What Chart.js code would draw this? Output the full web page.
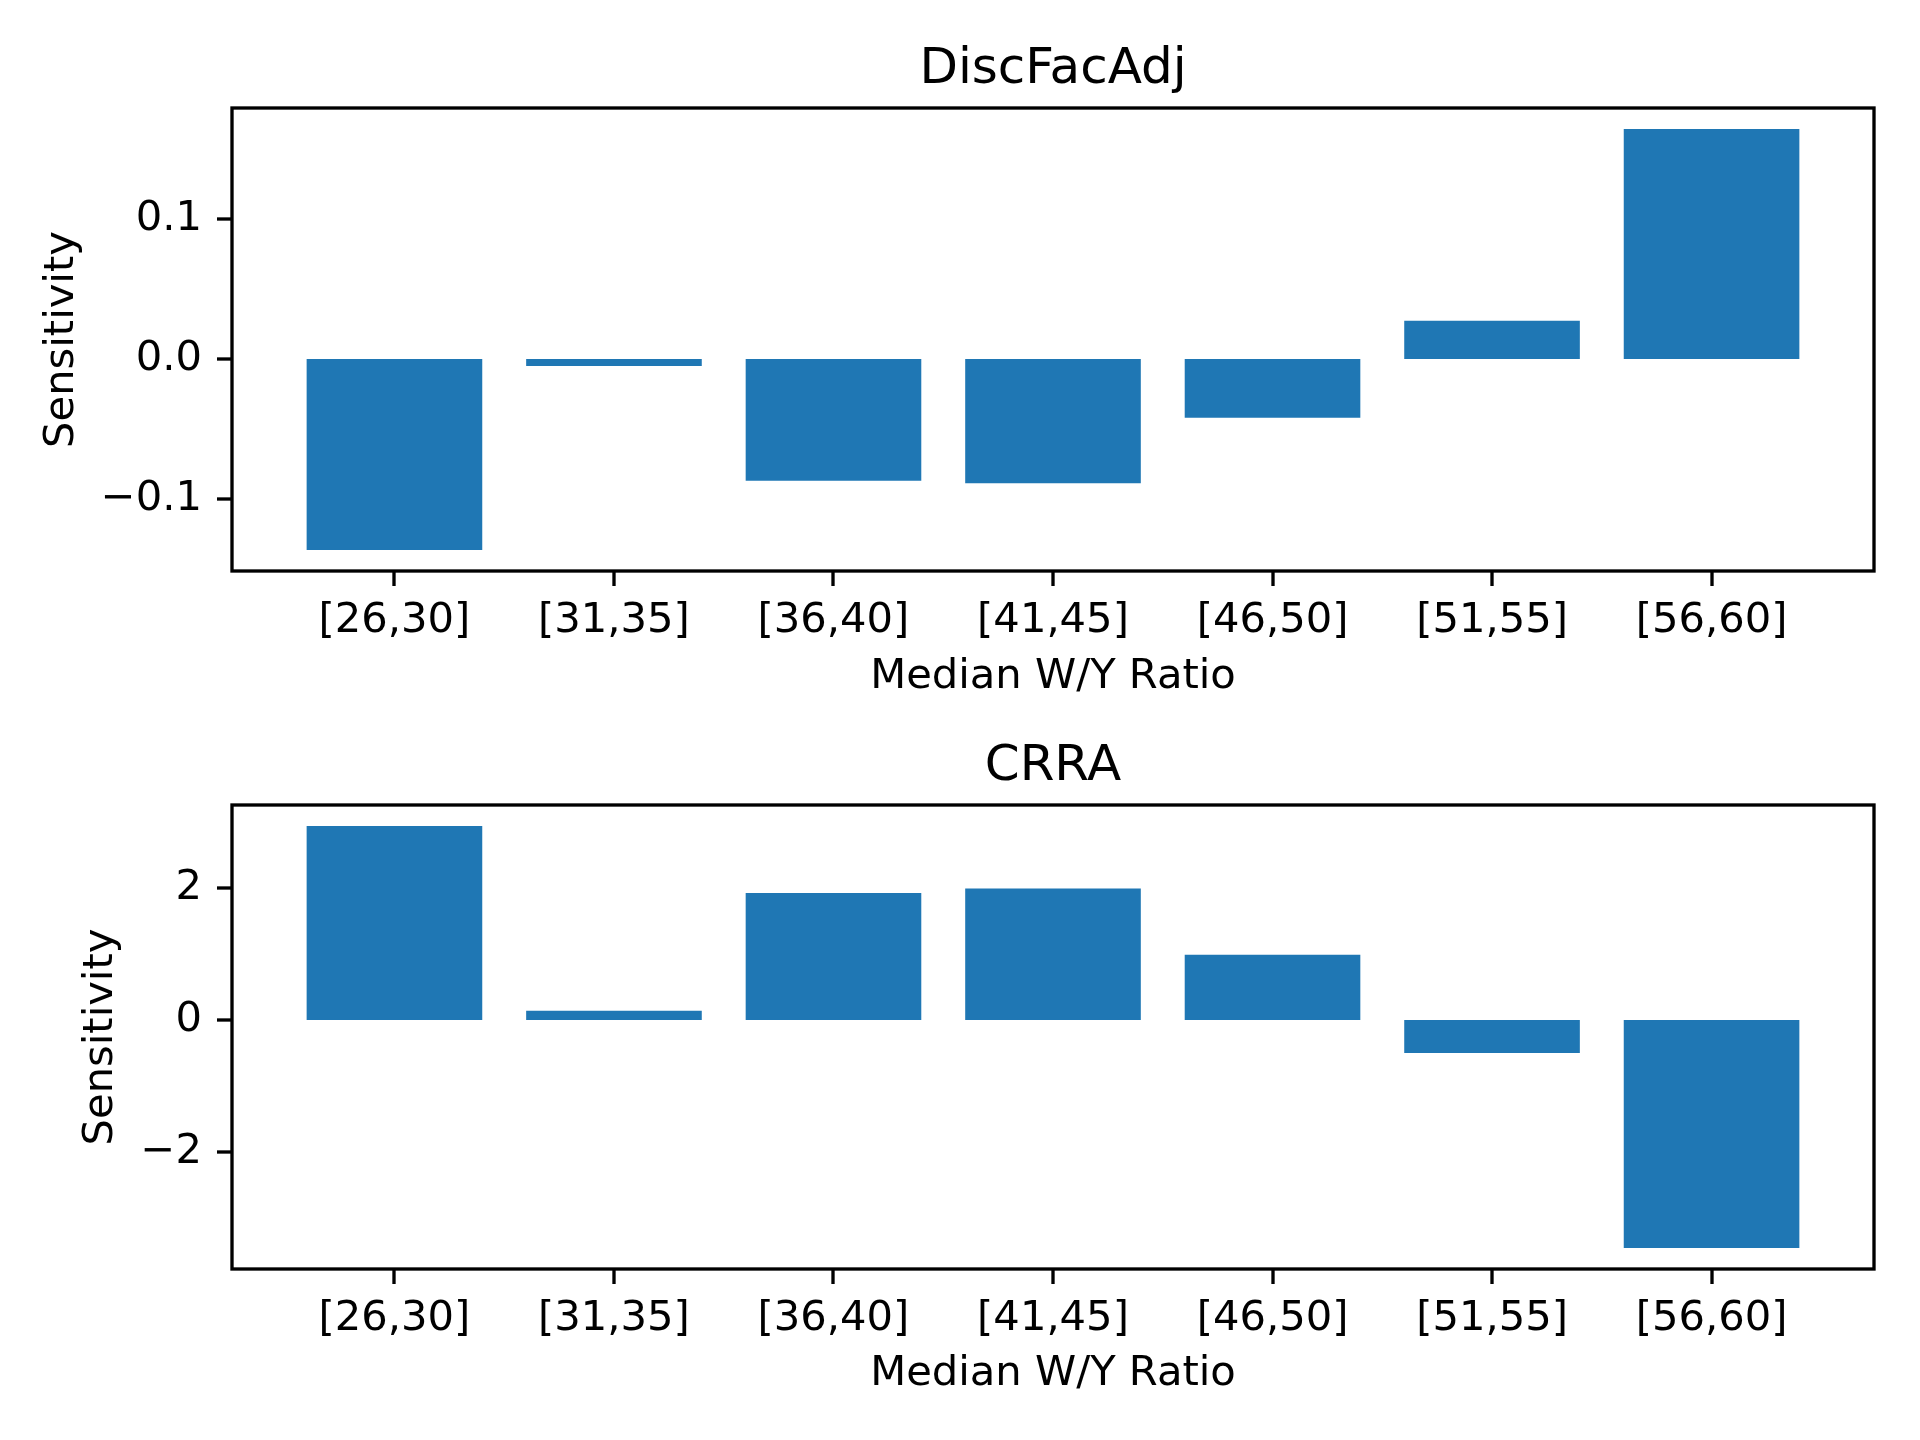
<!DOCTYPE html>
<html><head><meta charset="utf-8">
<script src="https://cdn.jsdelivr.net/npm/chart.js@4/dist/chart.umd.min.js"></script>
<style>html,body{margin:0;padding:0;background:#fff;} canvas{display:block;}</style>
</head><body>
<div style="width:1920px;height:1440px;position:relative;background:#fff">
<canvas id="c1" width="1920" height="720" style="width:1920px;height:720px"></canvas>
<canvas id="c2" width="1920" height="720" style="width:1920px;height:720px"></canvas>
</div>
<script>
// ---- data ----
const categories = ['[26,30]','[31,35]','[36,40]','[41,45]','[46,50]','[51,55]','[56,60]'];
const discFacAdjValues = [-0.1364, -0.0050, -0.0869, -0.0888, -0.0419, 0.0274, 0.1643];
const crraValues = [2.94, 0.14, 1.927, 1.994, 0.99, -0.50, -3.453];
const discFacAdjTicks = [-0.1, 0.0, 0.1];
const discFacAdjTickLabels = ['\u22120.1', '0.0', '0.1'];
const crraTicks = [-2, 0, 2];
const crraTickLabels = ['\u22122', '0', '2'];
const xAxisTitle = 'Median W/Y Ratio';
const yAxisTitle = 'Sensitivity';

// ---- style ----
const BAR_COLOR = '#1f77b4';
const BAR_WIDTH = 0.8;
const FONT = 'DejaVu Sans';
const TICK_SIZE = 41.67;
const TITLE_SIZE = 50;
const LINE_W = 3.33;
Chart.defaults.color = '#000';

const framePlugin = {
  id: 'frame',
  afterDatasetsDraw(chart) {
    const {ctx, chartArea: a} = chart;
    ctx.save();
    ctx.strokeStyle = '#000';
    ctx.lineWidth = LINE_W;
    ctx.strokeRect(a.left, a.top, a.right - a.left, a.bottom - a.top);
    ctx.restore();
  }
};

function makeChart(id, title, values, yTicks, yTickLabels, L) {
  const n = categories.length;
  const xPad = 0.05 * ((n - 1) + BAR_WIDTH);
  const lo = Math.min(0, ...values), hi = Math.max(0, ...values);
  const yPad = 0.05 * (hi - lo);
  return new Chart(document.getElementById(id), {
    type: 'bar',
    data: {
      datasets: [{
        data: values.map((v, i) => ({x: i, y: v})),
        backgroundColor: BAR_COLOR,
        borderWidth: 0,
        categoryPercentage: 1,
        barPercentage: BAR_WIDTH
      }]
    },
    options: {
      responsive: false,
      animation: false,
      devicePixelRatio: 1,
      layout: {padding: {left: 0, right: L.right, top: 0, bottom: 0}},
      plugins: {
        legend: {display: false},
        tooltip: {enabled: false},
        title: {
          display: true, text: title, color: '#000', fullSize: false,
          font: {family: FONT, size: TITLE_SIZE, weight: 'normal'},
          padding: {top: L.titleTop, bottom: L.titleBottom}
        }
      },
      scales: {
        x: {
          type: 'linear',
          offset: false,
          min: -0.5 + (1 - BAR_WIDTH) / 2 - xPad,
          max: (n - 1) + BAR_WIDTH / 2 + xPad,
          afterBuildTicks: s => { s.ticks = categories.map((_, i) => ({value: i})); },
          afterFit: s => { s.height = L.xHeight; },
          ticks: {
            autoSkip: false, maxRotation: 0, minRotation: 0,
            padding: L.xTickPad, color: '#000',
            font: {family: FONT, size: TICK_SIZE},
            callback: (v, i) => categories[i]
          },
          grid: {offset: false, drawOnChartArea: false, drawTicks: true, tickLength: 15,
                 color: '#000', tickColor: '#000', lineWidth: 0, tickWidth: LINE_W},
          border: {display: false},
          title: {display: true, text: xAxisTitle, color: '#000',
                  font: {family: FONT, size: TICK_SIZE},
                  padding: {top: 0, bottom: L.xTitlePad}}
        },
        y: {
          type: 'linear',
          min: lo - yPad,
          max: hi + yPad,
          afterBuildTicks: s => { s.ticks = yTicks.map(v => ({value: v})); },
          afterFit: s => { s.width = L.yWidth; },
          ticks: {
            padding: L.yTickPad, color: '#000',
            font: {family: FONT, size: TICK_SIZE},
            callback: (v, i) => yTickLabels[i]
          },
          grid: {drawOnChartArea: false, drawTicks: true, tickLength: 15,
                 color: '#000', tickColor: '#000', lineWidth: 0, tickWidth: LINE_W},
          border: {display: false},
          title: {display: true, text: yAxisTitle, color: '#000',
                  font: {family: FONT, size: TICK_SIZE},
                  padding: {top: L.yTitlePad, bottom: 0}}
        }
      }
    },
    plugins: [framePlugin]
  });
}

makeChart('c1', 'DiscFacAdj', discFacAdjValues, discFacAdjTicks, discFacAdjTickLabels,
  {right: 46, titleTop: 40, titleBottom: 8, xHeight: 149, xTickPad: 10, xTitlePad: 17.5,
   yWidth: 232, yTickPad: 15, yTitlePad: 37.5});
makeChart('c2', 'CRRA', crraValues, crraTicks, crraTickLabels,
  {right: 46, titleTop: 17, titleBottom: 8, xHeight: 171, xTickPad: 10, xTitlePad: 41,
   yWidth: 232, yTickPad: 15, yTitlePad: 76.5});
</script>
</body></html>
